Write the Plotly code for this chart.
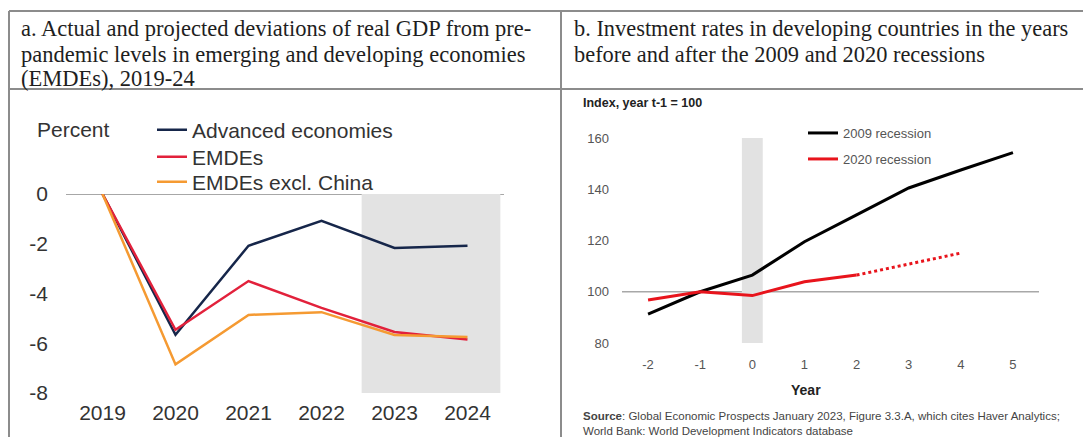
import plotly.graph_objects as go

W, H = 1083, 437

# ---------------- data ----------------
years = [2019, 2020, 2021, 2022, 2023, 2024]
year_labels = ["2019", "2020", "2021", "2022", "2023", "2024"]
advanced = [0, -5.66, -2.08, -1.08, -2.17, -2.08]
emdes = [0, -5.46, -3.5, -4.58, -5.55, -5.85]
emdes_ex_china = [0, -6.85, -4.86, -4.75, -5.67, -5.75]
left_yticks = [0, -2, -4, -6, -8]
left_ytick_labels = ["0", "-2", "-4", "-6", "-8"]

rel_years = [-2, -1, 0, 1, 2, 3, 4, 5]
rel_year_labels = ["-2", "-1", "0", "1", "2", "3", "4", "5"]
rec2009 = [91.3, 100, 106.5, 119.5, 130, 140.5, 147.5, 154.3]
rec2020_years = [-2, -1, 0, 1, 2]
rec2020 = [96.8, 100, 98.5, 103.9, 106.5]
rec2020_proj_years = [2, 4]
rec2020_proj = [106.5, 115.1]
right_yticks = [80, 100, 120, 140, 160]


def px(x):
    return x / W


def py(y):
    return 1 - y / H


SANS = "Liberation Sans, Arial, sans-serif"
SERIF = "Liberation Serif, Times New Roman, serif"

fig = go.Figure()

# left panel
fig.add_trace(go.Scatter(x=years, y=advanced, mode="lines", name="Advanced economies",
                         line=dict(color="#16264a", width=2.5), xaxis="x", yaxis="y", legend="legend"))
fig.add_trace(go.Scatter(x=years, y=emdes, mode="lines", name="EMDEs",
                         line=dict(color="#e2213b", width=2.5), xaxis="x", yaxis="y", legend="legend3"))
fig.add_trace(go.Scatter(x=years, y=emdes_ex_china, mode="lines", name="EMDEs excl. China",
                         line=dict(color="#f59a32", width=2.5), xaxis="x", yaxis="y", legend="legend4"))

# right panel
fig.add_trace(go.Scatter(x=rel_years, y=rec2009, mode="lines", name="2009 recession",
                         line=dict(color="#000000", width=3), xaxis="x2", yaxis="y2", legend="legend2"))
fig.add_trace(go.Scatter(x=rec2020_years, y=rec2020, mode="lines", name="2020 recession",
                         line=dict(color="#e8141c", width=3), xaxis="x2", yaxis="y2", legend="legend5"))
fig.add_trace(go.Scatter(x=rec2020_proj_years, y=rec2020_proj, mode="lines", name="2020 projection",
                         line=dict(color="#e8141c", width=3, dash="dot"), xaxis="x2", yaxis="y2",
                         showlegend=False))

shapes = []
# shaded projection area (left)
shapes.append(dict(type="rect", xref="x", yref="y", x0=2022.55, x1=2024.45, y0=-8, y1=0,
                   fillcolor="#e3e3e3", line=dict(width=0), layer="below"))
# zero line (left)
shapes.append(dict(type="line", xref="x domain", yref="y", x0=0, x1=1, y0=0, y1=0,
                   line=dict(color="#8a8a8a", width=1.5), layer="below"))
# gray bar year 0 (right)
shapes.append(dict(type="rect", xref="x2", yref="y2", x0=-0.2, x1=0.2, y0=80, y1=160,
                   fillcolor="#e2e2e2", line=dict(width=0), layer="below"))
# 100 line (right)
shapes.append(dict(type="line", xref="x2 domain", yref="y2", x0=0, x1=1, y0=100, y1=100,
                   line=dict(color="#a8a8a8", width=1.3), layer="below"))

# table borders
bc = dict(color="#8c8c8c", width=2)
shapes.append(dict(type="line", xref="paper", yref="paper", x0=px(9), x1=px(9), y0=py(11), y1=0, line=bc))
shapes.append(dict(type="line", xref="paper", yref="paper", x0=px(9), x1=1, y0=py(11), y1=py(11), line=bc))
shapes.append(dict(type="line", xref="paper", yref="paper", x0=px(561), x1=px(561), y0=py(11), y1=0, line=bc))
shapes.append(dict(type="line", xref="paper", yref="paper", x0=px(9), x1=1, y0=py(89), y1=py(89), line=bc))

title_a = ["a. Actual and projected deviations of real GDP from pre-",
           "pandemic levels in emerging and developing economies",
           "(EMDEs), 2019-24"]
title_b = ["b. Investment rates in developing countries in the years",
           "before and after the 2009 and 2020 recessions"]
line_y = [28, 54, 79]

annotations = []
for t, yy in zip(title_a, line_y):
    annotations.append(dict(text=t, xref="paper", yref="paper", x=px(19), y=py(yy), xanchor="left",
                            yanchor="middle", showarrow=False,
                            font=dict(family=SERIF, size=22.5, color="#1e1e1e")))
for t, yy in zip(title_b, line_y):
    annotations.append(dict(text=t, xref="paper", yref="paper", x=px(572), y=py(yy), xanchor="left",
                            yanchor="middle", showarrow=False,
                            font=dict(family=SERIF, size=22.4, color="#1e1e1e")))
annotations += [
    dict(text="Percent", xref="paper", yref="paper", x=px(35), y=py(130), xanchor="left",
         yanchor="middle", showarrow=False, font=dict(family=SANS, size=21, color="#333333")),
    dict(text="<b>Index, year t-1 = 100</b>", xref="paper", yref="paper", x=px(581), y=py(103),
         xanchor="left", yanchor="middle", showarrow=False,
         font=dict(family=SANS, size=12.5, color="#222222")),
    dict(text="<b>Year</b>", xref="paper", yref="paper", x=px(806), y=py(390),
         xanchor="center", yanchor="middle", showarrow=False,
         font=dict(family=SANS, size=14, color="#222222")),
    dict(text="<b>Source</b>: Global Economic Prospects January 2023, Figure 3.3.A, which cites Haver Analytics;<br>"
              "World Bank: World Development Indicators database",
         xref="paper", yref="paper", x=px(581), y=py(408), xanchor="left", yanchor="top",
         align="left", showarrow=False, font=dict(family=SANS, size=11.5, color="#444444")),
]


def leg(xp, yp, size, color):
    return dict(x=px(xp), y=py(yp), xanchor="left", yanchor="middle", bgcolor="rgba(0,0,0,0)",
                font=dict(family=SANS, size=size, color=color), itemclick=False,
                itemdoubleclick=False)


fig.update_layout(
    width=W, height=H,
    margin=dict(l=0, r=0, t=0, b=0, pad=0, autoexpand=False),
    paper_bgcolor="white", plot_bgcolor="rgba(0,0,0,0)",
    showlegend=True,
    xaxis=dict(domain=[px(66), px(504)], range=[2018.5, 2024.5], tickvals=years, ticktext=year_labels,
               showgrid=False, zeroline=False, showline=False, ticks="", anchor="y", automargin=False,
               tickfont=dict(family=SANS, size=21, color="#333333"), ticklabelstandoff=5),
    yaxis=dict(domain=[py(393), py(194)], range=[-8, 0], tickvals=left_yticks, ticktext=left_ytick_labels,
               showgrid=False, zeroline=False, showline=False, ticks="", anchor="x", automargin=False,
               tickfont=dict(family=SANS, size=21, color="#333333"), ticklabelstandoff=17),
    xaxis2=dict(domain=[px(622), px(1039)], range=[-2.5, 5.5], tickvals=rel_years, ticktext=rel_year_labels,
                showgrid=False, zeroline=False, showline=False, ticks="", anchor="y2", automargin=False,
                tickfont=dict(family=SANS, size=13, color="#555555"), ticklabelstandoff=12),
    yaxis2=dict(domain=[py(343), py(138)], range=[80, 160], tickvals=right_yticks,
                showgrid=False, zeroline=False, showline=False, ticks="", anchor="x2", automargin=False,
                tickfont=dict(family=SANS, size=13, color="#555555"), ticklabelstandoff=12),
    legend=leg(152, 130, 21, "#333333"),
    legend3=leg(152, 157, 21, "#333333"),
    legend4=leg(152, 182, 21, "#333333"),
    legend2=leg(803, 133, 13, "#555555"),
    legend5=leg(803, 159, 13, "#555555"),
    shapes=shapes,
    annotations=annotations,
)

fig.write_html("out.html")
